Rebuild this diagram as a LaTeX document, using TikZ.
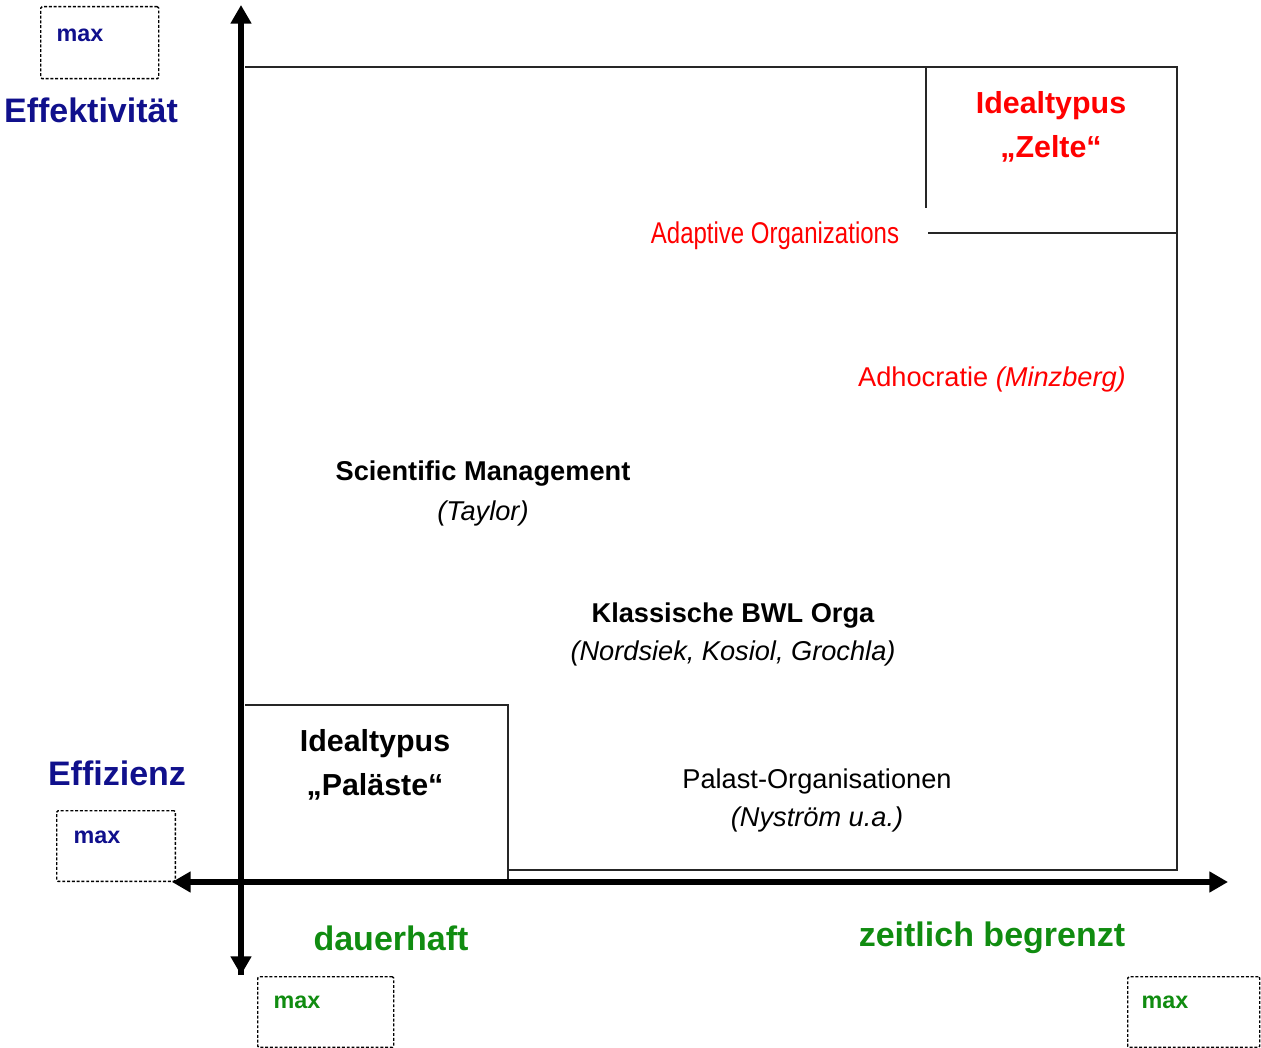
\documentclass[tikz,border=0pt]{standalone}
\usepackage{fontspec}
\setmainfont{Liberation Sans}
\newfontfamily\narrowsans[FakeStretch=0.8]{Liberation Sans}
\usetikzlibrary{arrows.meta}
\definecolor{navyc}{RGB}{16,16,140}
\definecolor{greenc}{RGB}{16,140,16}
\definecolor{redc}{RGB}{255,0,0}
\begin{document}
\begin{tikzpicture}[x=0.75pt,y=-0.75pt,
  frame/.style={line width=1.5pt,black!85},
  axis/.style={line width=4.5pt,-{Triangle[length=14pt,width=15pt]}},
  maxbox/.style={draw,dashed,dash pattern=on 2.2pt off 1.4pt,line width=1.1pt,rounded corners=1pt},
  maxtxt/.style={font=\fontsize{17.5}{18}\selectfont\bfseries,inner sep=0pt},
  bigl/.style={font=\fontsize{25.5}{30}\selectfont\bfseries,inner sep=0pt},
  ideal/.style={font=\fontsize{22.8}{32.5}\selectfont\bfseries,align=center,inner sep=0pt},
  lbl/.style={font=\fontsize{20.4}{28}\selectfont,align=center,inner sep=0pt},
  blbl/.style={font=\fontsize{20.4}{28}\selectfont\bfseries,inner sep=0pt}]
\useasboundingbox (0,0) rectangle (1261,1048);
% frame lines
\draw[frame] (245,67) -- (1177,67) -- (1177,870) -- (508,870);
\draw[frame] (245,705) -- (508,705) -- (508,879);
\draw[frame] (926,67) -- (926,208);
\draw[frame] (928,233) -- (1177,233);
% axes
\coordinate (o) at (241,882);
\coordinate (ytop) at (241,5);
\coordinate (ybot) at (241,975);
\coordinate (xleft) at (172,882);
\coordinate (xright) at (1228,882);
\draw[axis] (ybot) -- (ytop);
\draw[axis] (o) -- (ybot);
\draw[axis] (o) -- (xright);
\draw[axis] (o) -- (xleft);
% dashed max boxes
\node[maxbox,minimum width=88.5pt,minimum height=54pt,anchor=north west] (b1) at (40,6) {};
\node[maxbox,minimum width=89pt,minimum height=53pt,anchor=north west] (b2) at (56,810) {};
\node[maxbox,minimum width=102pt,minimum height=53pt,anchor=north west] (b3) at (257,976) {};
\node[maxbox,minimum width=99pt,minimum height=53pt,anchor=north west] (b4) at (1127,976) {};
\node[maxtxt,text=navyc] (m1) at (80,35) {max};
\node[maxtxt,text=navyc] (m2) at (97,837) {max};
\node[maxtxt,text=greenc] (m3) at (297,1002) {max};
\node[maxtxt,text=greenc] (m4) at (1165,1002) {max};
% axis labels
\node[bigl,text=navyc] (eff) at (91,110) {Effektivität};
\node[bigl,text=navyc] (effz) at (117,773) {Effizienz};
\node[bigl,text=greenc] (dau) at (391,938) {dauerhaft};
\node[bigl,text=greenc] (zeit) at (992,938) {zeitlich begrenzt};
% ideal types
\node[ideal,text=redc] (zelte) at (1051,127) {Idealtypus\\„Zelte“};
\node[ideal] (palaeste) at (375,765) {Idealtypus\\„Paläste“};
% labels
\node[lbl,text=redc,font=\fontsize{22.5}{24}\narrowsans] (adapt) at (775,236) {Adaptive Organizations};
\node[lbl,text=redc] (adho) at (992,379) {Adhocratie \textit{(Minzberg)}};
\node[blbl] (sci) at (483,474) {Scientific Management};
\node[lbl] (tay) at (483,513) {\textit{(Taylor)}};
\node[blbl] (klass) at (733,616) {Klassische BWL Orga};
\node[lbl] (nord) at (733,653) {\textit{(Nordsiek, Kosiol, Grochla)}};
\node[lbl] (palast) at (817,781) {Palast-Organisationen};
\node[lbl] (nys) at (817,819) {\textit{(Nyström u.a.)}};
\end{tikzpicture}
\end{document}
